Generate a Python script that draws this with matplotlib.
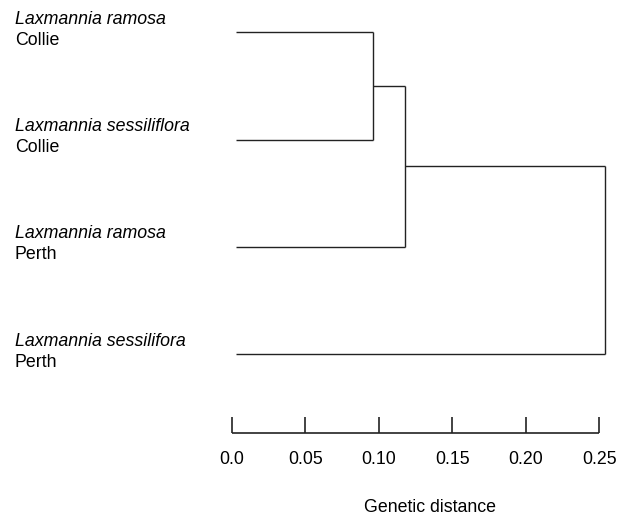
import matplotlib
matplotlib.use('Agg')
import matplotlib.pyplot as plt

plt.rcParams['font.family'] = ['Liberation Sans', 'DejaVu Sans']

# leaves, top to bottom
species = ['Laxmannia ramosa', 'Laxmannia sessiliflora', 'Laxmannia ramosa', 'Laxmannia sessilifora']
sites = ['Collie', 'Collie', 'Perth', 'Perth']

# merges: (child a, child b, genetic distance); new nodes numbered after the leaves
merges = [(0, 1, 0.096), (4, 2, 0.118), (5, 3, 0.254)]

scale_ticks = [0.0, 0.05, 0.10, 0.15, 0.20, 0.25]
scale_labels = ['0.0', '0.05', '0.10', '0.15', '0.20', '0.25']

W, H = 618, 516
fig = plt.figure(figsize=(W / 100, H / 100), dpi=100)

# y in leaf units: leaf 0 at 32 px, step 107 px
y0, step = 32.3, 107.3
ax = fig.add_axes([231.7 / W, 0, 367.6 / W, 1])
ax.set_xlim(0, 0.25)
ax.set_ylim((H - y0) / step, -y0 / step)
ax.axis('off')

col = '#222222'
lw = 1.0
leaf_gap = 0.003
fs = 12.8

# node positions
nx = [leaf_gap] * len(species)
ny = list(range(len(species)))
for a, b, h in merges:
    for c in (a, b):
        ax.plot([nx[c], h], [ny[c], ny[c]], color=col, lw=lw, clip_on=False,
                solid_capstyle='butt')
    ax.plot([h, h], [ny[a], ny[b]], color=col, lw=lw, clip_on=False,
            solid_capstyle='butt')
    nx.append(h)
    ny.append((ny[a] + ny[b]) / 2)

# leaf labels
lab_x = (15 - 231.7) / 1470.
for i, (sp, st) in enumerate(zip(species, sites)):
    ax.text(lab_x, i - 13 / step, sp, style='italic', fontsize=fs,
            va='center', ha='left', clip_on=False)
    ax.text(lab_x, i + 8 / step, st, fontsize=fs,
            va='center', ha='left', clip_on=False)

# scale bar
base_y = (433 - y0) / step
top_y = (417 - y0) / step
lab_y = (460 - y0) / step
ax.plot([scale_ticks[0], scale_ticks[-1]], [base_y, base_y], color=col, lw=1.2,
        clip_on=False, solid_capstyle='butt')
for t, s in zip(scale_ticks, scale_labels):
    ax.plot([t, t], [base_y, top_y], color=col, lw=1.2, clip_on=False,
            solid_capstyle='butt')
    ax.text(t, lab_y, s, fontsize=fs, ha='center', va='center', clip_on=False)

ax.text(0.135, (508 - y0) / step, 'Genetic distance', fontsize=fs,
        ha='center', va='center', clip_on=False)

fig.savefig('out.png', dpi=100)
